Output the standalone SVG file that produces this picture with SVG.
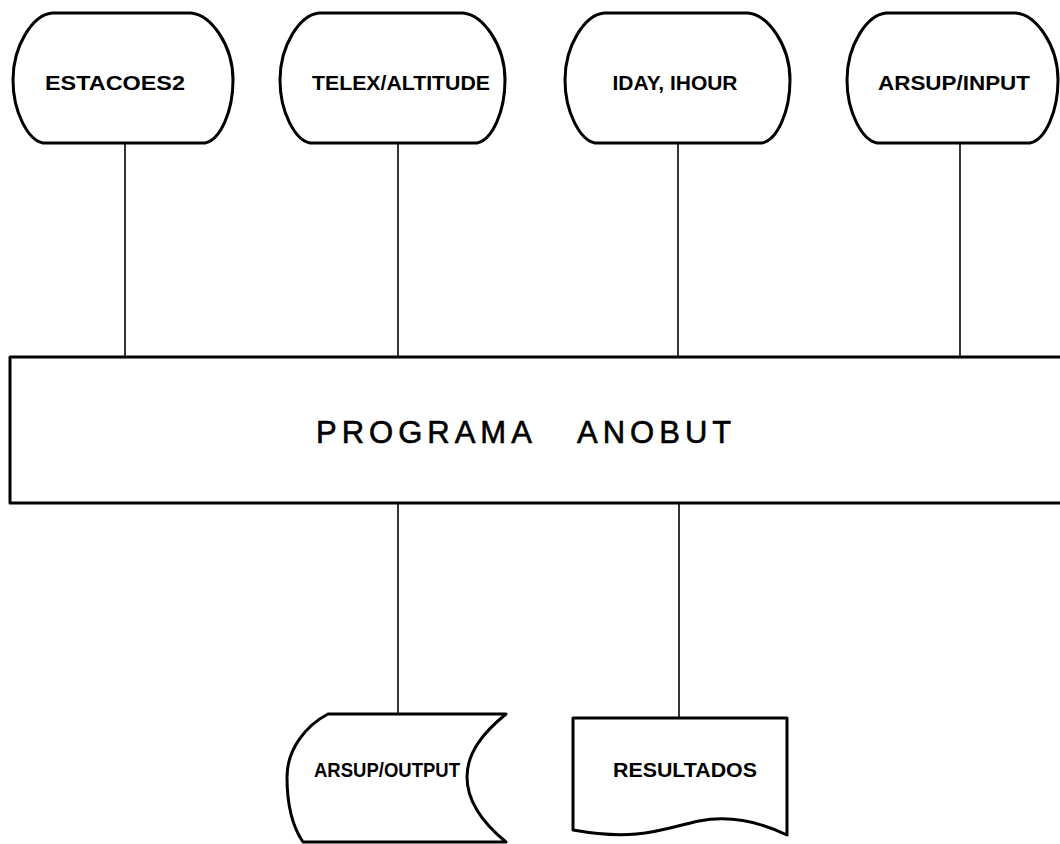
<svg xmlns="http://www.w3.org/2000/svg" width="1060" height="844" viewBox="0 0 1060 844">
<style>
.shape{fill:#fff;stroke:#000;stroke-width:3;stroke-linejoin:round}
.conn{stroke:#000;stroke-width:1.6;fill:none}
.lbl{font-family:"Liberation Sans",Arial,sans-serif;font-weight:bold;font-size:20px;fill:#000;text-anchor:middle}
.big{font-family:"Liberation Sans",Arial,sans-serif;font-size:31px;fill:#000;stroke:#000;stroke-width:0.6;letter-spacing:5px;word-spacing:30px}
</style>
<rect width="1060" height="844" fill="#fff"/>
<g id="connectors">
<line class="conn" x1="125" y1="143" x2="125" y2="357"/>
<line class="conn" x1="398" y1="143" x2="398" y2="357"/>
<line class="conn" x1="678" y1="143" x2="678" y2="357"/>
<line class="conn" x1="960" y1="143" x2="960" y2="357"/>
<line class="conn" x1="398" y1="503" x2="398" y2="714"/>
<line class="conn" x1="679" y1="503" x2="679" y2="718"/>
</g>
<g id="estacoes2">
<path class="shape" d="M52,13 H191 C211,15 233,45 233,80 C233,112 220,140 205,143 H43 C28,140 13,112 13,80 C13,45 33,15 52,13 Z"/>
<text class="lbl" x="115" y="90" textLength="140" lengthAdjust="spacingAndGlyphs">ESTACOES2</text>
</g>
<g id="telex">
<path class="shape" d="M319,13 H463 C483,15 505,45 505,80 C505,112 492,140 477,143 H310 C295,140 280,112 280,80 C280,45 300,15 319,13 Z"/>
<text class="lbl" x="401" y="90" textLength="178" lengthAdjust="spacingAndGlyphs">TELEX/ALTITUDE</text>
</g>
<g id="iday">
<path class="shape" d="M604,13 H748 C768,15 790,45 790,80 C790,112 777,140 762,143 H595 C580,140 565,112 565,80 C565,45 585,15 604,13 Z"/>
<text class="lbl" x="675" y="90" textLength="125" lengthAdjust="spacingAndGlyphs">IDAY, IHOUR</text>
</g>
<g id="arsup-input">
<path class="shape" d="M886,13 H1016 C1036,15 1058,45 1058,80 C1058,112 1045,140 1030,143 H877 C862,140 847,112 847,80 C847,45 867,15 886,13 Z"/>
<text class="lbl" x="954" y="90" textLength="152" lengthAdjust="spacingAndGlyphs">ARSUP/INPUT</text>
</g>
<g id="programa">
<rect class="shape" x="10" y="357" width="1060" height="146"/>
<text class="big" x="316" y="443">PROGRAMA ANOBUT</text>
</g>
<g id="arsup-output">
<path class="shape" d="M328,714 H506 C484,732 467,752 467,777 C467,802 484,824 506,842 H303 C292,826 287,802 287,777 C287,750 305,726 328,714 Z"/>
<text class="lbl" x="387" y="777" font-size="19" textLength="146" lengthAdjust="spacingAndGlyphs">ARSUP/OUTPUT</text>
</g>
<g id="resultados">
<path class="shape" d="M573,718 H787 V835 C760,822 730,815 699,821 C665,828 640,842 573,830 Z"/>
<text class="lbl" x="685" y="777" font-size="19" textLength="144" lengthAdjust="spacingAndGlyphs">RESULTADOS</text>
</g>
</svg>
